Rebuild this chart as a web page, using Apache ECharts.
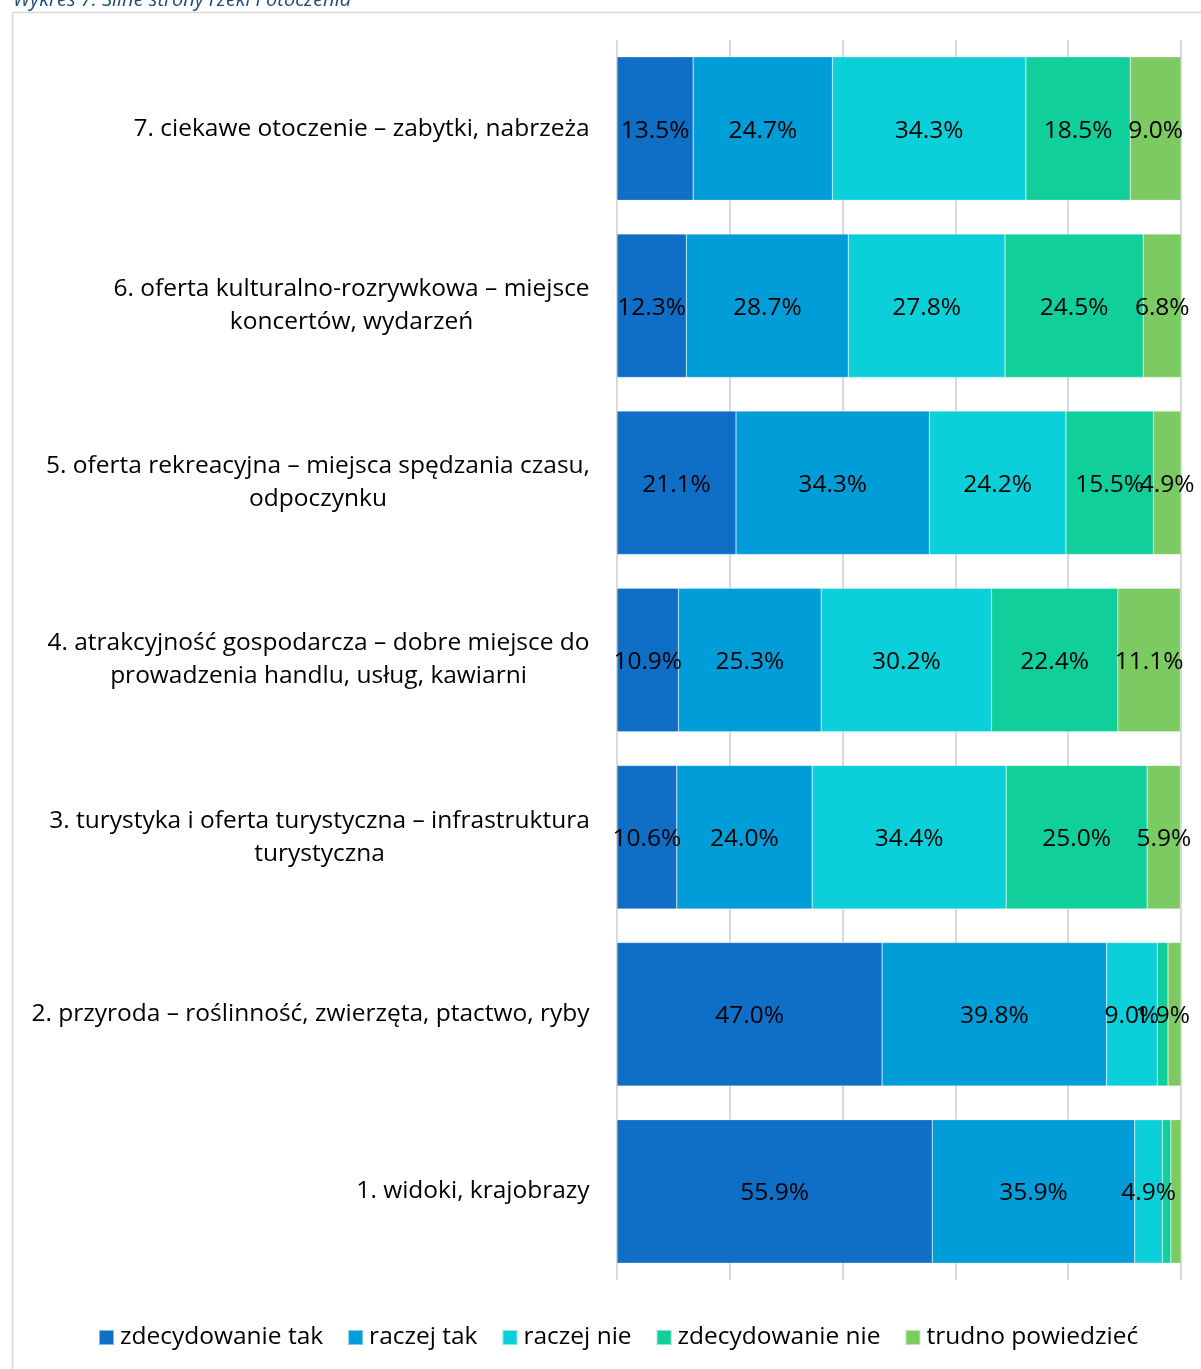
<!DOCTYPE html>
<html><head><meta charset="utf-8">
<script src="https://cdn.jsdelivr.net/npm/echarts@6/dist/echarts.min.js"></script>
<style>html,body{margin:0;padding:0;background:#fff}#c{width:1201px;height:1369px}</style>
</head><body><div id="c"></div>
<script>
const categories = [
  "1. widoki, krajobrazy",
  "2. przyroda – roślinność, zwierzęta, ptactwo, ryby",
  "3. turystyka i oferta turystyczna – infrastruktura\nturystyczna",
  "4. atrakcyjność gospodarcza – dobre miejsce do\nprowadzenia handlu, usług, kawiarni",
  "5. oferta rekreacyjna – miejsca spędzania czasu,\nodpoczynku",
  "6. oferta kulturalno-rozrywkowa – miejsce\nkoncertów, wydarzeń",
  "7. ciekawe otoczenie – zabytki, nabrzeża"
];
const seriesNames = ["zdecydowanie tak", "raczej tak", "raczej nie", "zdecydowanie nie", "trudno powiedzieć"];
const zdecydowanieTak = [55.9, 47.0, 10.6, 10.9, 21.1, 12.3, 13.5];
const raczejTak       = [35.9, 39.8, 24.0, 25.3, 34.3, 28.7, 24.7];
const raczejNie       = [4.9, 9.0, 34.4, 30.2, 24.2, 27.8, 34.3];
const zdecydowanieNie = [1.5, 1.9, 25.0, 22.4, 15.5, 24.5, 18.5];
const trudno          = [1.8, 2.3, 5.9, 11.1, 4.9, 6.8, 9.0];
const hiddenLabels = [[0, 3], [0, 4], [1, 4]]; // [category, series]
const xTicks = [0, 20, 40, 60, 80, 100];
const colors = ["#0F6FC6", "#009DD9", "#0BD0D9", "#10CF9B", "#7CCA62"];

const FONT = '"Open Sans", "Noto Sans", sans-serif';
const FS = 24.5;
const allValues = [zdecydowanieTak, raczejTak, raczejNie, zdecydowanieNie, trudno];

const cv = document.createElement('canvas').getContext('2d');
cv.font = FS + 'px ' + FONT;
const rich = {};
categories.forEach((c, i) => {
  const w = Math.max(...c.split('\n').map(l => cv.measureText(l).width));
  rich['r' + i] = { width: Math.ceil(w) + 2, align: 'center', fontSize: FS, fontFamily: FONT, color: '#000', lineHeight: 33 };
});

const series = seriesNames.map((name, s) => ({
  name, type: 'bar', stack: 'total', barWidth: '81%',
  itemStyle: { color: colors[s], borderColor: 'rgba(255,255,255,0.5)', borderWidth: 0.5 },
  label: {
    show: true, position: 'inside', color: '#000', fontSize: FS, fontFamily: FONT,
    offset: [0, 2],
    formatter: p => p.value.toFixed(1) + '%'
  },
  data: allValues[s].map((v, c) => {
    const hide = hiddenLabels.some(h => h[0] === c && h[1] === s);
    return hide ? { value: v, label: { show: false } } : v;
  })
}));

const chart = echarts.init(document.getElementById('c'), null, { renderer: 'canvas' });
chart.setOption({
  animation: false,
  textStyle: { fontFamily: FONT },
  title: {
    text: 'Wykres 7: Silne strony rzeki i otoczenia', left: 8, top: -15,
    textStyle: { fontStyle: 'italic', fontWeight: 'normal', fontSize: 20, color: '#1F4E79', fontFamily: FONT }
  },
  graphic: [{
    type: 'rect', left: 10, top: 10, shape: { width: 1220, height: 1400 },
    style: { fill: 'none', stroke: '#d9d9d9', lineWidth: 1.5 }, silent: true, z: -1
  }],
  grid: { left: 617, right: 20, top: 40, bottom: 89, containLabel: false },
  legend: {
    data: seriesNames, bottom: 14, left: 93, icon: 'rect', itemWidth: 15, itemHeight: 15, itemGap: 24,
    textStyle: { fontSize: FS, color: '#000', fontFamily: FONT, padding: [0, 0, 0, 1] }
  },
  xAxis: {
    type: 'value', min: xTicks[0], max: xTicks[xTicks.length - 1], interval: 20,
    axisLabel: { show: false }, axisTick: { show: false }, axisLine: { show: false },
    splitLine: { show: true, lineStyle: { color: '#d9d9d9', width: 2 } }
  },
  yAxis: {
    type: 'category', data: categories,
    axisLine: { show: false }, axisTick: { show: false },
    axisLabel: {
      margin: 26,
      formatter: (v, i) => v.split('\n').map(l => '{r' + i + '|' + l + '}').join('\n'),
      rich
    }
  },
  series
});
</script></body></html>
